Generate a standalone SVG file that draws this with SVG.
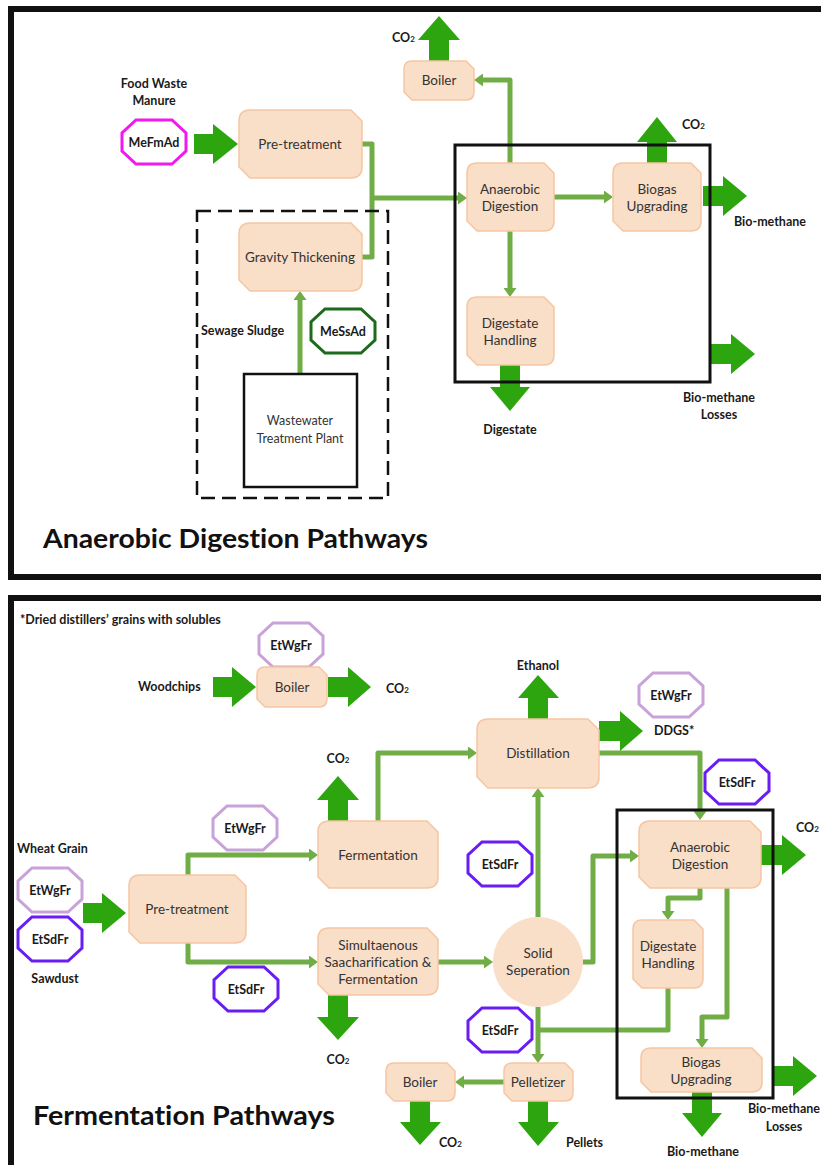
<svg xmlns="http://www.w3.org/2000/svg" xmlns:xlink="http://www.w3.org/1999/xlink" width="821" height="1165" viewBox="0 0 821 1165">
<style>
text{font-family:Lato,"Liberation Sans",sans-serif;fill:#1a1a1a;font-variant-ligatures:none;font-feature-settings:"liga" 0,"dlig" 0}
.b{font-weight:bold;font-size:12.5px}
.r{font-size:13.5px;fill:#333}
.m{text-anchor:middle}
.t{font-weight:bold;font-size:27px;fill:#111}
.box{fill:#F9DEC8;stroke:#F6C6A2;stroke-width:1.5}
.fat{fill:#2DA50F}
.con{fill:none;stroke:#70AD47;stroke-width:5;stroke-linejoin:round}
.frame{fill:none;stroke:#111;stroke-width:6}
.oct{fill:#fff;stroke-width:3}
.sub{font-size:8px}
</style>
<defs>
<marker id="ah" viewBox="0 0 9 13" markerWidth="9" markerHeight="13" refX="1" refY="6.5" orient="auto" markerUnits="userSpaceOnUse"><path d="M0,0 L9,6.5 L0,13 Z" fill="#70AD47"/></marker>
<path id="oct" d="M-18,-22 H18 L32,-9 V9 L18,22 H-18 L-32,9 V-9 Z"/>
</defs>

<rect class="frame" x="11" y="9" width="840" height="568"/>
<rect class="frame" x="11" y="598" width="840" height="590"/>

<g id="connectors">
<path class="con" d="M360,144 H372 V257 H360"/>
<path class="con" d="M372,198 H459" marker-end="url(#ah)"/>
<path class="con" d="M300,376 V299" marker-end="url(#ah)"/>
<path class="con" d="M510,163 V80 H482" marker-end="url(#ah)"/>
<path class="con" d="M554,197 H605" marker-end="url(#ah)"/>
<path class="con" d="M510,231 V289" marker-end="url(#ah)"/>
<path class="con" d="M188,875 V855 H310" marker-end="url(#ah)"/>
<path class="con" d="M188,943 V962 H310" marker-end="url(#ah)"/>
<path class="con" d="M378,821 V753 H469" marker-end="url(#ah)"/>
<path class="con" d="M438,962 H485" marker-end="url(#ah)"/>
<path class="con" d="M538,917 V796" marker-end="url(#ah)"/>
<path class="con" d="M599,753 H700 V812" marker-end="url(#ah)"/>
<path class="con" d="M583,962 H593 V856 H631" marker-end="url(#ah)"/>
<path class="con" d="M700,888 V898 H668 V912" marker-end="url(#ah)"/>
<path class="con" d="M727,888 V1017 H702 V1040" marker-end="url(#ah)"/>
<path class="con" d="M668,988 V1030 H538"/>
<path class="con" d="M538,1007 V1055" marker-end="url(#ah)"/>
<path class="con" d="M504,1082 H463" marker-end="url(#ah)"/>
<polygon class="fat" points="194,134 213,134 213,124 238,144 213,164 213,154 194,154"/>
<polygon class="fat" points="429,61 429,40 418,40 439,16 460,40 449,40 449,61"/>
<polygon class="fat" points="647,163 647,142 637,142 657,117 677,142 667,142 667,163"/>
<polygon class="fat" points="703,186 723,186 723,176 747,196 723,216 723,206 703,206"/>
<polygon class="fat" points="710,344 731,344 731,334 755,354 731,374 731,364 710,364"/>
<polygon class="fat" points="500,365 520,365 520,387 530,387 510,411 490,387 500,387"/>
<polygon class="fat" points="213,677 232,677 232,667 256,687 232,707 232,697 213,697"/>
<polygon class="fat" points="328,677 348,677 348,667 371,687 348,707 348,697 328,697"/>
<polygon class="fat" points="328,821 328,800 317,800 338,776 359,800 348,800 348,821"/>
<polygon class="fat" points="83,903 102,903 102,893 126,913 102,933 102,923 83,923"/>
<polygon class="fat" points="328,995 348,995 348,1017 359,1017 338,1040 317,1017 328,1017"/>
<polygon class="fat" points="528,719 528,698 518,698 538,675 559,698 548,698 548,719"/>
<polygon class="fat" points="599,721 620,721 620,711 643,731 620,751 620,741 599,741"/>
<polygon class="fat" points="761,845 782,845 782,835 806,855 782,875 782,865 761,865"/>
<polygon class="fat" points="410,1101 430,1101 430,1122 441,1122 420,1145 400,1122 410,1122"/>
<polygon class="fat" points="528,1101 548,1101 548,1122 559,1122 538,1146 518,1122 528,1122"/>
<polygon class="fat" points="692,1092 712,1092 712,1113 722,1113 702,1137 682,1113 692,1113"/>
<polygon class="fat" points="773,1066 793,1066 793,1056 817,1076 793,1096 793,1086 773,1086"/>
</g>

<!-- top panel -->
<g id="ad-area">
<rect x="197" y="211" width="191" height="287" fill="none" stroke="#111" stroke-width="2.5" stroke-dasharray="14,7"/>
<rect x="455" y="145" width="255" height="237" fill="none" stroke="#111" stroke-width="3"/>
</g>
<g id="co2-top1"><text class="b" x="392" y="42">CO<tspan class="sub">2</tspan></text></g>
<g id="food-waste"><text class="b m" x="154" y="88">Food Waste</text><text class="b m" x="154" y="105">Manure</text></g>
<g id="mefmad"><use xlink:href="#oct" transform="translate(154,142)" class="oct" stroke="#F01AF0"/><text class="b m" x="154" y="147">MeFmAd</text></g>
<g id="pretreat-top"><path class="box" d="M250,110 H351 L362,121 V167 Q362,178 351,178 H250 L239,167 V121 Q239,110 250,110Z"/><text class="r m" x="300" y="149">Pre-treatment</text></g>
<g id="gravity"><path class="box" d="M250,223 H351 L362,234 V280 Q362,291 351,291 H250 L239,280 V234 Q239,223 250,223Z"/><text class="r m" x="300" y="262">Gravity Thickening</text></g>
<g id="boiler-top"><path class="box" d="M412,61 H466 L474,69 V92 Q474,100 466,100 H412 L404,92 V69 Q404,61 412,61Z"/><text class="r m" x="439" y="85">Boiler</text></g>
<g id="ad-top"><path class="box" d="M477,163 H544 L554,173 V221 Q554,231 544,231 H477 L467,221 V173 Q467,163 477,163Z"/><text class="r m" x="510" y="194">Anaerobic</text><text class="r m" x="510" y="211">Digestion</text></g>
<g id="biogas-top"><path class="box" d="M623,163 H691 L701,173 V221 Q701,231 691,231 H623 L613,221 V173 Q613,163 623,163Z"/><text class="r m" x="657" y="194">Biogas</text><text class="r m" x="657" y="211">Upgrading</text></g>
<g id="co2-top2"><text class="b" x="682" y="129">CO<tspan class="sub">2</tspan></text></g>
<g id="biomethane-top"><text class="b" x="734" y="226">Bio-methane</text></g>
<g id="digestate-top"><path class="box" d="M477,297 H544 L554,307 V355 Q554,365 544,365 H477 L467,355 V307 Q467,297 477,297Z"/><text class="r m" x="510" y="328">Digestate</text><text class="r m" x="510" y="345">Handling</text></g>
<g id="losses-top"><text class="b m" x="719" y="402">Bio-methane</text><text class="b m" x="719" y="419">Losses</text></g>
<g id="digestate-out"><text class="b m" x="510" y="434">Digestate</text></g>
<g id="sewage"><text class="b" x="201" y="335">Sewage Sludge</text></g>
<g id="messad"><use xlink:href="#oct" transform="translate(343,331)" class="oct" stroke="#1B6B1B"/><text class="b m" x="343" y="336">MeSsAd</text></g>
<g id="wwtp"><rect x="244" y="374" width="113" height="113" fill="#fff" stroke="#111" stroke-width="2.5"/><text class="r m" x="300" y="425" style="font-size:12.5px">Wastewater</text><text class="r m" x="300" y="443" style="font-size:12.5px">Treatment Plant</text></g>
<g id="title-top"><text class="t" x="43" y="548" textLength="385" lengthAdjust="spacingAndGlyphs">Anaerobic Digestion Pathways</text></g>

<!-- bottom panel -->
<g id="ad-box-bottom"><rect x="617" y="810" width="156" height="288" fill="none" stroke="#111" stroke-width="3"/></g>
<g id="footnote"><text class="b" x="20" y="624">*Dried distillers’ grains with solubles</text></g>
<g id="etwgfr-boiler"><use xlink:href="#oct" transform="translate(291,645)" class="oct" stroke="#C8A2D8"/><text class="b m" x="291" y="650">EtWgFr</text></g>
<g id="woodchips"><text class="b" x="138" y="691">Woodchips</text></g>
<g id="boiler-b1"><path class="box" d="M265,667 H319 L327,675 V699 Q327,707 319,707 H265 L257,699 V675 Q257,667 265,667Z"/><text class="r m" x="292" y="692">Boiler</text></g>
<g id="co2-b1"><text class="b" x="386" y="693">CO<tspan class="sub">2</tspan></text></g>
<g id="co2-b2"><text class="b m" x="338" y="763">CO<tspan class="sub">2</tspan></text></g>
<g id="etwgfr-ferm"><use xlink:href="#oct" transform="translate(245,828)" class="oct" stroke="#C8A2D8"/><text class="b m" x="245" y="833">EtWgFr</text></g>
<g id="wheat"><text class="b" x="17" y="853">Wheat Grain</text></g>
<g id="etwgfr-left"><use xlink:href="#oct" transform="translate(50,890)" class="oct" stroke="#C8A2D8"/><text class="b m" x="50" y="895">EtWgFr</text></g>
<g id="etsdfr-left"><use xlink:href="#oct" transform="translate(50,939)" class="oct" stroke="#6A1CF5"/><text class="b m" x="50" y="944">EtSdFr</text></g>
<g id="sawdust"><text class="b m" x="55" y="983">Sawdust</text></g>
<g id="pretreat-b"><path class="box" d="M140,875 H235 L246,886 V932 Q246,943 235,943 H140 L129,932 V886 Q129,875 140,875Z"/><text class="r m" x="187" y="914">Pre-treatment</text></g>
<g id="fermentation"><path class="box" d="M329,821 H427 L438,832 V877 Q438,888 427,888 H329 L318,877 V832 Q318,821 329,821Z"/><text class="r m" x="378" y="860">Fermentation</text></g>
<g id="etsdfr-ssf"><use xlink:href="#oct" transform="translate(246,989)" class="oct" stroke="#6A1CF5"/><text class="b m" x="246" y="994">EtSdFr</text></g>
<g id="ssf"><path class="box" d="M329,928 H427 L438,939 V984 Q438,995 427,995 H329 L318,984 V939 Q318,928 329,928Z"/><text class="r m" x="378" y="950">Simultaenous</text><text class="r m" x="378" y="967">Saacharification &amp;</text><text class="r m" x="378" y="984">Fermentation</text></g>
<g id="co2-b3"><text class="b m" x="338" y="1064">CO<tspan class="sub">2</tspan></text></g>
<g id="ethanol"><text class="b m" x="538" y="670">Ethanol</text></g>
<g id="distillation"><path class="box" d="M488,719 H588 L599,730 V777 Q599,788 588,788 H488 L477,777 V730 Q477,719 488,719Z"/><text class="r m" x="538" y="758">Distillation</text></g>
<g id="etwgfr-ddgs"><use xlink:href="#oct" transform="translate(671,695)" class="oct" stroke="#C8A2D8"/><text class="b m" x="671" y="700">EtWgFr</text></g>
<g id="ddgs"><text class="b" x="654" y="735">DDGS*</text></g>
<g id="etsdfr-ad"><use xlink:href="#oct" transform="translate(737,782)" class="oct" stroke="#6A1CF5"/><text class="b m" x="737" y="787">EtSdFr</text></g>
<g id="ad-b"><path class="box" d="M650,821 H750 L761,832 V877 Q761,888 750,888 H650 L639,877 V832 Q639,821 650,821Z"/><text class="r m" x="700" y="852">Anaerobic</text><text class="r m" x="700" y="869">Digestion</text></g>
<g id="co2-b4"><text class="b" x="796" y="832">CO<tspan class="sub">2</tspan></text></g>
<g id="etsdfr-mid"><use xlink:href="#oct" transform="translate(500,864)" class="oct" stroke="#6A1CF5"/><text class="b m" x="500" y="869">EtSdFr</text></g>
<g id="solid-sep"><circle cx="538" cy="962" r="45" fill="#F9DEC8"/><text class="r m" x="538" y="958">Solid</text><text class="r m" x="538" y="975">Seperation</text></g>
<g id="digestate-b"><path class="box" d="M642,920 H694 L703,929 V979 Q703,988 694,988 H642 L633,979 V929 Q633,920 642,920Z"/><text class="r m" x="668" y="951">Digestate</text><text class="r m" x="668" y="968">Handling</text></g>
<g id="etsdfr-pel"><use xlink:href="#oct" transform="translate(500,1030)" class="oct" stroke="#6A1CF5"/><text class="b m" x="500" y="1035">EtSdFr</text></g>
<g id="pelletizer"><path class="box" d="M512,1063 H565 L573,1071 V1093 Q573,1101 565,1101 H512 L504,1093 V1071 Q504,1063 512,1063Z"/><text class="r m" x="538" y="1087">Pelletizer</text></g>
<g id="boiler-b2"><path class="box" d="M394,1063 H447 L455,1071 V1093 Q455,1101 447,1101 H394 L386,1093 V1071 Q386,1063 394,1063Z"/><text class="r m" x="420" y="1087">Boiler</text></g>
<g id="biogas-b"><path class="box" d="M651,1048 H752 L762,1058 V1082 Q762,1092 752,1092 H651 L641,1082 V1058 Q641,1048 651,1048Z"/><text class="r m" x="701" y="1067">Biogas</text><text class="r m" x="701" y="1084">Upgrading</text></g>
<g id="co2-b5"><text class="b" x="439" y="1147">CO<tspan class="sub">2</tspan></text></g>
<g id="pellets"><text class="b" x="566" y="1147">Pellets</text></g>
<g id="biomethane-b"><text class="b m" x="703" y="1156">Bio-methane</text></g>
<g id="losses-b"><text class="b m" x="784" y="1113">Bio-methane</text><text class="b m" x="784" y="1131">Losses</text></g>
<g id="title-b"><text class="t" x="33" y="1125" textLength="302" lengthAdjust="spacingAndGlyphs">Fermentation Pathways</text></g>
</svg>
